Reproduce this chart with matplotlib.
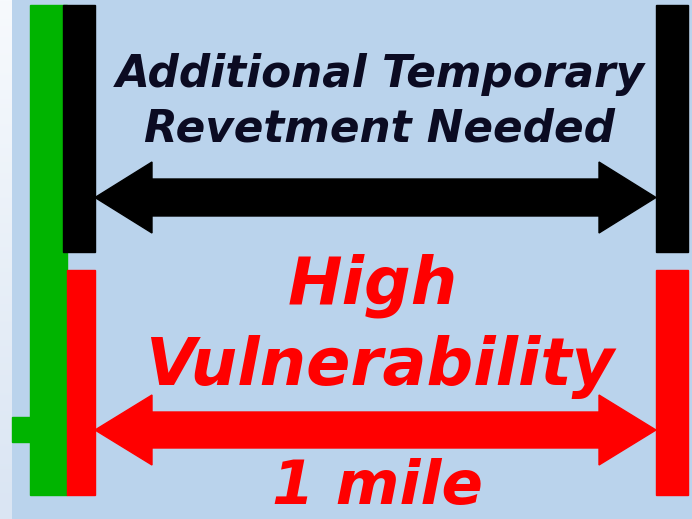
import numpy as np
import matplotlib
matplotlib.use("Agg")
import matplotlib.pyplot as plt
from matplotlib.patches import Rectangle, Polygon

# ---- content ----
top_lines = ["Additional Temporary", "Revetment Needed"]
mid_lines = ["High", "Vulnerability"]
bottom_label = "1 mile"
span_miles = [0, 1]

BG = "#BAD3EC"
GREEN = "#00B400"
RED = "#FF0000"
BLACK = "#000000"
TEXT_DARK = "#0b0b22"

W, H = 692, 519
fig = plt.figure(figsize=(W / 100, H / 100), dpi=100)
ax = fig.add_axes([0, 0, 1, 1])
ax.set_xlim(0, W)
ax.set_ylim(H, 0)
ax.axis("off")
fig.patch.set_facecolor(BG)
ax.add_patch(Rectangle((0, 0), W, H, color=BG, zorder=0))

# left light gradient strip
grad = np.linspace(0, 1, 256).reshape(-1, 1)
c0 = np.array([247, 250, 253]) / 255
c1 = np.array([218, 229, 243]) / 255
img = c0 + (c1 - c0) * grad[..., None]
img = np.repeat(img, 2, axis=1)
ax.imshow(img, extent=(0, 12, H, 0), aspect="auto", zorder=1)

# vertical bars
x_left, x_right = 95, 656
ax.add_patch(Rectangle((30, 5), 37, 490, color=GREEN, zorder=2))
ax.add_patch(Rectangle((63, 5), 32, 247, color=BLACK, zorder=3))
ax.add_patch(Rectangle((67, 270), 28, 225, color=RED, zorder=3))
ax.add_patch(Rectangle((x_right, 5), 32, 247, color=BLACK, zorder=3))
ax.add_patch(Rectangle((x_right, 270), 32, 225, color=RED, zorder=3))
# small green stub
ax.add_patch(Rectangle((12, 417), 18, 25, color=GREEN, zorder=2))


def double_arrow(x0, x1, yc, shaft_h, head_h, head_len, color):
    s = shaft_h / 2
    h = head_h / 2
    verts = [
        (x0, yc),
        (x0 + head_len, yc - h),
        (x0 + head_len, yc - s),
        (x1 - head_len, yc - s),
        (x1 - head_len, yc - h),
        (x1, yc),
        (x1 - head_len, yc + h),
        (x1 - head_len, yc + s),
        (x0 + head_len, yc + s),
        (x0 + head_len, yc + h),
    ]
    ax.add_patch(Polygon(verts, closed=True, color=color, zorder=4))


double_arrow(x_left, x_right, 197.5, 37, 71, 57, BLACK)
double_arrow(x_left, x_right, 430, 36, 70, 57, RED)

fp = dict(family="DejaVu Sans", weight="bold", style="italic")
cx = 380
ax.text(cx, 87, top_lines[0], fontsize=31.5, color=TEXT_DARK, ha="center", va="baseline", zorder=5, **fp)
ax.text(cx, 142, top_lines[1], fontsize=31.5, color=TEXT_DARK, ha="center", va="baseline", zorder=5, **fp)
ax.text(373, 303, mid_lines[0], fontsize=47, color=RED, ha="center", va="baseline", zorder=5, **fp)
ax.text(cx, 385, mid_lines[1], fontsize=47, color=RED, ha="center", va="baseline", zorder=5, **fp)
ax.text(378, 504, bottom_label, fontsize=44, color=RED, ha="center", va="baseline", zorder=5, **fp)

fig.savefig("out.png", dpi=100, facecolor=BG)
